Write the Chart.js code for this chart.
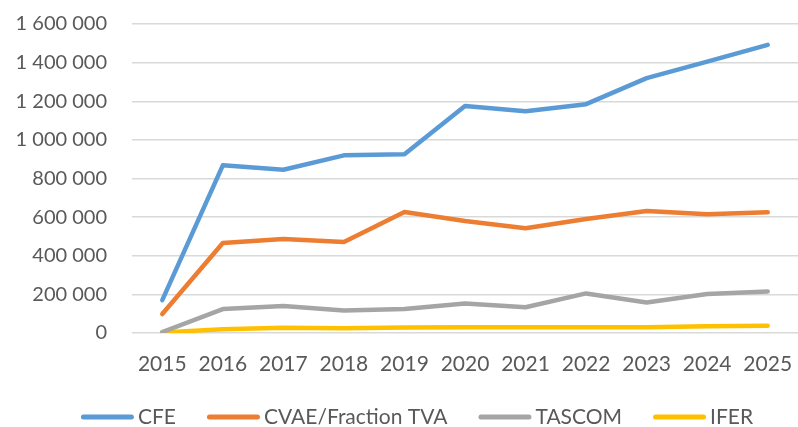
<!DOCTYPE html>
<html>
<head>
<meta charset="utf-8">
<script src="https://cdn.jsdelivr.net/npm/chart.js@4/dist/chart.umd.min.js"></script>
<style>
  html, body { margin: 0; padding: 0; background: #fff; }
  #wrap { width: 798px; height: 427px; }
</style>
</head>
<body>
<div id="wrap"><canvas id="taxChart"></canvas></div>
<script>
// Years on the x axis
const years = ['2015', '2016', '2017', '2018', '2019', '2020', '2021', '2022', '2023', '2024', '2025'];

// Series values
const cfe = [170000, 868000, 845000, 920000, 925000, 1175000, 1148000, 1185000, 1320000, 1405000, 1492000];
const cvae = [98000, 466000, 487000, 471000, 627000, 580000, 542000, 590000, 632000, 615000, 625000];
const tascom = [5000, 124000, 140000, 117000, 124000, 153000, 133000, 205000, 158000, 202000, 215000];
const ifer = [3000, 20000, 27000, 24000, 28000, 30000, 30000, 30000, 30000, 35000, 37000];

// Y axis range
const yMax = 1600000;
const yStep = 200000;

const seriesNames = ['CFE', 'CVAE/Fraction TVA', 'TASCOM', 'IFER'];
const seriesColors = ['#5B9BD5', '#ED7D31', '#A5A5A5', '#FFC000'];

function fmt(v) {
  return String(v).replace(/\B(?=(\d{3})+(?!\d))/g, ' ');
}

function makeSet(i, data) {
  return {
    label: seriesNames[i],
    data: data,
    borderColor: seriesColors[i],
    backgroundColor: seriesColors[i],
    borderWidth: 4.5,
    pointRadius: 0,
    tension: 0,
    borderCapStyle: 'round',
    borderJoinStyle: 'round'
  };
}

// Office-style legend: short thick line, tight gap before the text
const bottomLegend = {
  id: 'bottomLegend',
  afterDraw(chart) {
    const c = chart.ctx;
    const lineLen = 53, textGap = 4, itemGap = 31;
    const y = 417;
    c.save();
    c.font = '21px Lato';
    c.textBaseline = 'middle';
    const sets = chart.data.datasets;
    let total = 0;
    sets.forEach((ds, i) => {
      total += lineLen + textGap + c.measureText(ds.label).width;
      if (i < sets.length - 1) total += itemGap;
    });
    let x = 417 - total / 2;
    sets.forEach(ds => {
      c.strokeStyle = ds.borderColor;
      c.lineWidth = 5;
      c.lineCap = 'round';
      c.beginPath();
      c.moveTo(x + 2.5, y);
      c.lineTo(x + lineLen - 2.5, y);
      c.stroke();
      x += lineLen + textGap;
      c.fillStyle = '#595959';
      c.fillText(ds.label, x, y);
      x += c.measureText(ds.label).width + itemGap;
    });
    c.restore();
  }
};

const ctx = document.getElementById('taxChart').getContext('2d');
new Chart(ctx, {
  type: 'line',
  data: {
    labels: years,
    datasets: [makeSet(0, cfe), makeSet(1, cvae), makeSet(2, tascom), makeSet(3, ifer)]
  },
  options: {
    responsive: true,
    maintainAspectRatio: false,
    animation: false,
    layout: { padding: { left: 12, right: 0, top: 24, bottom: 34 } },
    plugins: {
      tooltip: { enabled: false },
      legend: { display: false }
    },
    scales: {
      x: {
        offset: true,
        grid: { display: false, drawTicks: false },
        border: { display: false },
        afterFit(scale) {
          scale.height = 60;
          scale.paddingLeft = 0;
          scale.paddingRight = 0;
        },
        ticks: {
          color: '#595959',
          padding: 19,
          maxRotation: 0,
          font: { family: 'Lato', size: 21 }
        }
      },
      y: {
        min: 0,
        max: yMax,
        grid: { color: '#D9D9D9', lineWidth: 1.5, drawTicks: false },
        border: { display: false },
        afterFit(scale) {
          scale.width = 120;
          scale.paddingTop = 0;
          scale.paddingBottom = 0;
        },
        ticks: {
          stepSize: yStep,
          color: '#595959',
          padding: 25,
          font: { family: 'Lato', size: 20 },
          callback: function (v) { return fmt(v); }
        }
      }
    }
  },
  plugins: [bottomLegend]
});
</script>
</body>
</html>
